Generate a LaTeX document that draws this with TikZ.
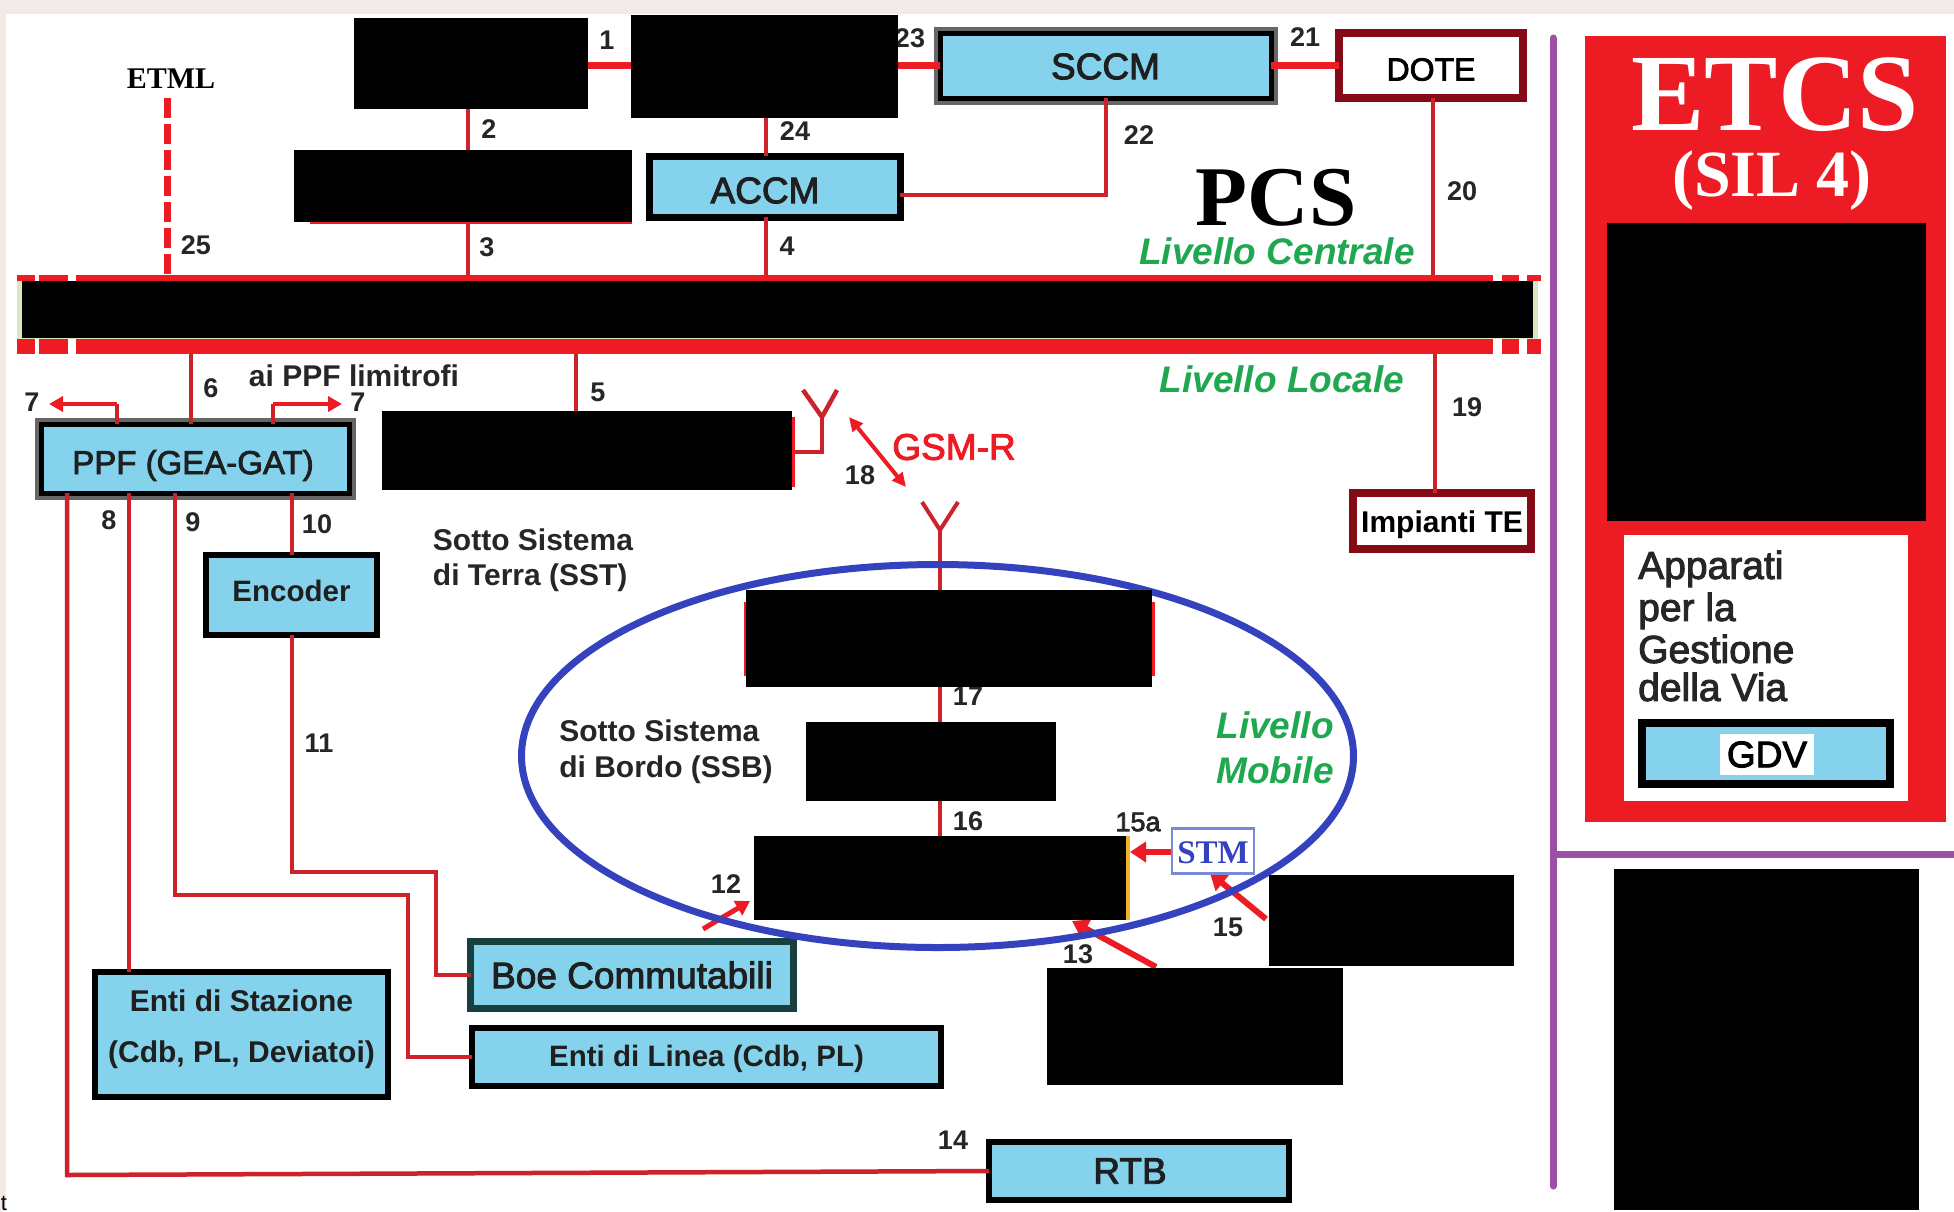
\documentclass[tikz,border=0pt]{standalone}
\usepackage{fontspec}
\setmainfont{Liberation Sans}
\newfontfamily\serifcap{Liberation Serif}
\newfontfamily\medfont[FakeBold=2.5]{Liberation Sans}
\usetikzlibrary{arrows.meta,shapes.geometric}
\definecolor{pagebg}{HTML}{F3EAE7}
\definecolor{rl}{HTML}{CC2229}
\definecolor{rb}{HTML}{ED1C24}
\definecolor{dr}{HTML}{850A18}
\definecolor{cy}{HTML}{84D2EC}
\definecolor{gr}{HTML}{1FA84F}
\definecolor{bl}{HTML}{3542BE}
\definecolor{pu}{HTML}{9B4FA5}
\definecolor{tealb}{HTML}{173F40}
\definecolor{pale}{HTML}{D8E8BC}
\newcommand{\fz}[1]{\fontsize{#1}{#1}\selectfont}
\newcommand{\dn}[2]{\raisebox{-#1pt}[\height][\depth]{#2}}
\tikzset{
  box/.style={rectangle,inner sep=0pt,outer sep=0pt,align=center},
  blk/.style={box,fill=black},
  cyb/.style={box,fill=cy,draw=black,line width=7pt,text=black!88},
  halo/.style={cyb,line width=5pt,preaction={draw=black!60,line width=13pt}},
  wire/.style={draw=rl,line width=4.5pt},
  fat/.style={draw=rb,line width=7pt},
  redbox/.style={box,fill=white,draw=dr,line width=8pt},
  num/.style={inner sep=0pt,outer sep=0pt,font=\fz{27}\bfseries,text=black!85},
  lbl/.style={inner sep=0pt,outer sep=0pt,font=\fz{30}\bfseries,text=black!85,align=left},
  lvl/.style={inner sep=0pt,outer sep=0pt,text=gr,font=\fz{37}\bfseries\itshape,align=left},
  arr/.style={draw=rb,line width=6pt,-{Triangle[length=16pt,width=20pt]}},
  bar/.style={box,fill=rb},
  gap/.style={box,fill=white},
  pline/.style={draw=pu,line width=7pt,line cap=round}
}
\begin{document}
\begin{tikzpicture}[x=1pt,y=-1pt]
\useasboundingbox (0,0) rectangle (1954,1211);
\fill[pagebg] (0,0) rectangle (1954,1211);
\fill[white] (6,14) rectangle (1954,1211);
\node[inner sep=0pt,font=\fz{22}] (tt) at (4,1203) {t};

% colour boxes
\node[halo,minimum width=331pt,minimum height=65pt] (sccm) at (1105.5,65.5) {\dn{1}{\medfont\fz{37}SCCM}};
\node[cyb,minimum width=251pt,minimum height=61pt] (accm) at (774.5,186.5) {\dn{4}{\hspace{-19pt}\medfont\fz{37}ACCM}};
\node[redbox,minimum width=184pt,minimum height=65pt] (dote) at (1431,65.5) {\dn{4}{\medfont\fz{32}DOTE}};
\node[redbox,minimum width=178pt,minimum height=56pt] (te) at (1442,521) {\dn{4}{\fz{30}\bfseries Impianti TE}};
\node[halo,minimum width=308pt,minimum height=69pt] (ppf) at (195,458.5) {\dn{7}{\hspace{-4pt}\medfont\fz{33}PPF (GEA-GAT)}};
\node[cyb,line width=6pt,minimum width=171pt,minimum height=80pt] (enc) at (291.5,595) {\dn{-4}{\fz{29.5}\bfseries Encoder}};
\node[cyb,line width=6pt,minimum width=293pt,minimum height=125pt] (sta) at (241.5,1034.5) {\dn{-5}{\begin{tabular}{@{}c@{}}\fz{30}\bfseries Enti di Stazione\\[26pt]\fz{30}\bfseries (Cdb, PL, Deviatoi)\end{tabular}}};
\node[cyb,draw=tealb,line width=7pt,minimum width=323pt,minimum height=67pt] (boe) at (632,975) {\medfont\fz{37}Boe Commutabili};
\node[cyb,line width=6pt,minimum width=469pt,minimum height=58pt] (lin) at (706.5,1057) {\dn{2}{\fz{29.5}\bfseries Enti di Linea (Cdb, PL)}};
\node[cyb,line width=6pt,minimum width=300pt,minimum height=58pt] (rtb) at (1139,1171) {\hspace{-18pt}\medfont\fz{37}RTB};

% bus
\node[bar,minimum width=1524pt,minimum height=6pt] (bust) at (779,278) {};
\node[bar,minimum width=1524pt,minimum height=15pt] (busb) at (779,346.5) {};
\fill[pale] (17,281) rectangle (1538,339);
\foreach \n/\x/\w in {g1/36.5/4,g2/72/8,g3/1497.5/9,g4/1523/8}{
  \node[gap,minimum width=\w pt,minimum height=6pt] (\n a) at (\x,278) {};
  \node[gap,minimum width=\w pt,minimum height=15pt] (\n b) at (\x,346.5) {};
}

% waypoints
\coordinate (c25) at (167,98);
\coordinate (c2) at (468,0);
\coordinate (c24) at (766,0);
\coordinate (c5) at (576,0);
\coordinate (c6) at (191,0);
\coordinate (c7a) at (117,404);
\coordinate (c7ae) at (49,404);
\coordinate (c7b) at (273,404);
\coordinate (c7be) at (342,404);
\coordinate (c8a) at (67,0);
\coordinate (c8ab) at (67,1175);
\coordinate (c8b) at (129,0);
\coordinate (c9) at (175,0);
\coordinate (c9a) at (175,895);
\coordinate (c9b) at (408,895);
\coordinate (c10) at (292,0);
\coordinate (c11a) at (292,872);
\coordinate (c11b) at (436,872);
\coordinate (c22) at (1106,0);
\coordinate (c20) at (1433,0);
\coordinate (c19) at (1435,0);

\node[inner sep=0pt,minimum width=1pt,minimum height=1pt] (ant2) at (940,530) {};
\node[inner sep=0pt,minimum width=1pt,minimum height=1pt] (ant1) at (822,417) {};

% connectors
\draw[fat] (588,65) -- (631,65);
\draw[fat] (898,65) -- (sccm.west |- 0,65);
\draw[fat] (sccm.east |- 0,65) -- (dote.west |- 0,65);
\draw[wire] (c22 |- sccm.south) -- (c22 |- 0,195) -- (accm.east |- 0,195);
\draw[wire] (dote.south -| c20) -- (bust.north -| c20);
\draw[wire] (busb.south -| c19) -- (te.north -| c19);
\draw[wire] (busb.south -| c6) -- (ppf.north -| c6);
\draw[wire] (c7a |- ppf.north) -- (c7a);
\draw[wire] (c7b |- ppf.north) -- (c7b);
\draw[arr,line width=4.5pt,-{Triangle[length=14pt,width=15pt]}] (c7a) -- (c7ae);
\draw[arr,line width=4.5pt,-{Triangle[length=14pt,width=15pt]}] (c7b) -- (c7be);
\draw[wire] (ppf.south -| c8a) -- (c8ab) -- (rtb.west);
\draw[wire] (ppf.south -| c8b) -- (sta.north -| c8b);
\draw[wire] (ppf.south -| c9) -- (c9a) -- (c9b) -- (c9b |- lin.west) -- (lin.west);
\draw[wire] (ppf.south -| c10) -- (enc.north -| c10);
\draw[wire] (enc.south -| c10) -- (c11a) -- (c11b) -- (c11b |- boe.west) -- (boe.west);
\draw[draw=rb,line width=7pt,dash pattern=on 20pt off 6pt] (c25) -- (c25 |- bust.north);
% antennas
\draw[wire,line width=4pt] (ant2.center) -- (922,502);
\draw[wire,line width=4pt] (ant2.center) -- (958,502);
\draw[wire,line width=4pt] (ant2.center) -- (940,836);
\draw[wire] (ant1.center) -- (803,390);
\draw[wire] (ant1.center) -- (837,390);
\draw[wire] (ant1.center) -- (822,452) -- (794,452);
\draw[draw=rb,line width=3pt] (793.5,417) -- (793.5,487);
\draw[draw=rb,line width=4pt,{Triangle[length=14pt,width=13pt]}-{Triangle[length=14pt,width=13pt]}] (849,417) -- (906,487);
% on-board arrows
\draw[arr,line width=5pt,-{Triangle[length=14pt,width=16pt]}] (703,929) -- (750,901);
\draw[arr] (1172,852) -- (1130,852);
\draw[arr] (1266,919) -- (1210,873);
\draw[arr] (1156,967) -- (1072,921);
\draw[draw=rb,line width=3pt] (745.5,602) -- (745.5,676);
\draw[draw=rb,line width=3pt] (1153,602) -- (1153,676);
\draw[draw={rgb,255:red,240;green,176;blue,48},line width=4pt] (1128,836) -- (1128,920);

% ellipse
\node[ellipse,draw=bl,line width=7pt,inner sep=0pt,outer sep=0pt,minimum width=832pt,minimum height=383pt] (ell) at (937.5,756) {};

% STM
\node[box,fill=white,draw={rgb,255:red,122;green,136;blue,216},line width=2.5pt,minimum width=82pt,minimum height=45pt,font=\serifcap\bfseries\fz{33},text=bl] (stm) at (1213,851) {\dn{2}{STM}};

% numbers
\foreach \n/\t/\x/\y in {
 n1/1/607/40, n2/2/489/129, n3/3/487/247, n4/4/787/246, n5/5/598/392, n6/6/211/388,
 n7a/7/32/402, n7b/7/358/402, n8/8/109/520, n9/9/193/522, n10/10/317/524, n11/11/319/743,
 n12/12/726/884, n13/13/1078/954, n14/14/953/1140, n15/15/1228/927, n16/16/968/821,
 n17/17/968/696, n18/18/860/475, n19/19/1467/407, n20/20/1462/191, n21/21/1305/37,
 n22/22/1139/135, n23/23/910/38, n24/24/795/131, n25/25/196/245}{
  \node[num] (\n) at (\x,\y) {\t};
}
\node[num,font=\medfont\fz{27}] (n15a) at (1138,822) {15a};

% redacted boxes
\node[blk,minimum width=234pt,minimum height=91pt] (b1) at (471,63.5) {};
\node[blk,minimum width=267pt,minimum height=103pt] (b2) at (764.5,66.5) {};
\node[blk,minimum width=338pt,minimum height=72pt] (b3) at (463,186) {};
\draw[draw=rb,line width=2pt] (310,223) -- (632,223);
\draw[wire] (b1.south -| c2) -- (b3.north -| c2);
\draw[wire] (b3.south -| c2) -- (bust.north -| c2);
\draw[wire] (b2.south -| c24) -- (accm.north -| c24);
\draw[wire] (accm.south -| c24) -- (bust.north -| c24);
\node[blk,minimum width=1511pt,minimum height=57pt] (bk) at (777.5,309.5) {};
\node[blk,minimum width=410pt,minimum height=79pt] (b5) at (587,450.5) {};
\draw[wire] (busb.south -| c5) -- (b5.north -| c5);
\node[blk,minimum width=406pt,minimum height=97pt] (b6) at (949,638.5) {};
\node[blk,minimum width=250pt,minimum height=79pt] (b7) at (931,761.5) {};
\node[blk,minimum width=372pt,minimum height=84pt] (b8) at (940,878) {};
\node[blk,minimum width=245pt,minimum height=91pt] (b9) at (1391.5,920.5) {};
\node[blk,minimum width=296pt,minimum height=117pt] (b10) at (1195,1026.5) {};

% texts
\node[inner sep=0pt,font=\serifcap\bfseries\fz{30}] (etml) at (171,79) {ETML};
\node[inner sep=0pt,font=\serifcap\bfseries\fz{85}] (pcs) at (1276,198) {PCS};
\node[lvl] (lc) at (1277,251) {Livello Centrale};
\node[lvl] (ll) at (1282,379) {Livello Locale};
\node[lvl] (lm) at (1275,748) {Livello\\[8pt]Mobile};
\node[inner sep=0pt,text=rb,font=\medfont\fz{37}] (gsm) at (954,447) {GSM-R};
\node[lbl] (aippf) at (354,376) {ai PPF limitrofi};
\node[lbl] (sst) at (533,560) {Sotto Sistema\\[5pt]di Terra (SST)};
\node[lbl] (ssb) at (666,752) {Sotto Sistema\\[6pt]di Bordo (SSB)};

% right column
\draw[pline] (1553,38) -- (1553,1186);
\draw[pu,line width=7pt] (1553,854) -- (1954,854);
\node[box,fill=rb,minimum width=361pt,minimum height=786pt] (etcs) at (1765.5,429) {};
\node[inner sep=0pt,text=white,font=\serifcap\bfseries\fz{110}] (et) at (1775,95) {ETCS};
\node[inner sep=0pt,text=white,font=\serifcap\bfseries\fz{66}] (sil) at (1772,181) {(SIL 4)};
\node[blk,minimum width=319pt,minimum height=298pt] (b11) at (1766.5,372) {};
\node[box,fill=white,minimum width=284pt,minimum height=266pt] (ww) at (1766,668) {};
\node[anchor=west,inner sep=0pt,font=\medfont\fz{39},text=black!85,align=left] (app) at (1638,626) {Apparati\\[3pt]per la\\[3pt]Gestione\\[-1pt]della Via};
\node[cyb,line width=8pt,minimum width=248pt,minimum height=61pt] (gdv) at (1766,753.5) {};
\node[box,fill=white,minimum width=94pt,minimum height=41pt,font=\medfont\fz{37}] (gdvt) at (1767,754.5) {GDV};
\node[blk,minimum width=305pt,minimum height=341pt] (b12) at (1766.5,1039.5) {};
\end{tikzpicture}
\end{document}
